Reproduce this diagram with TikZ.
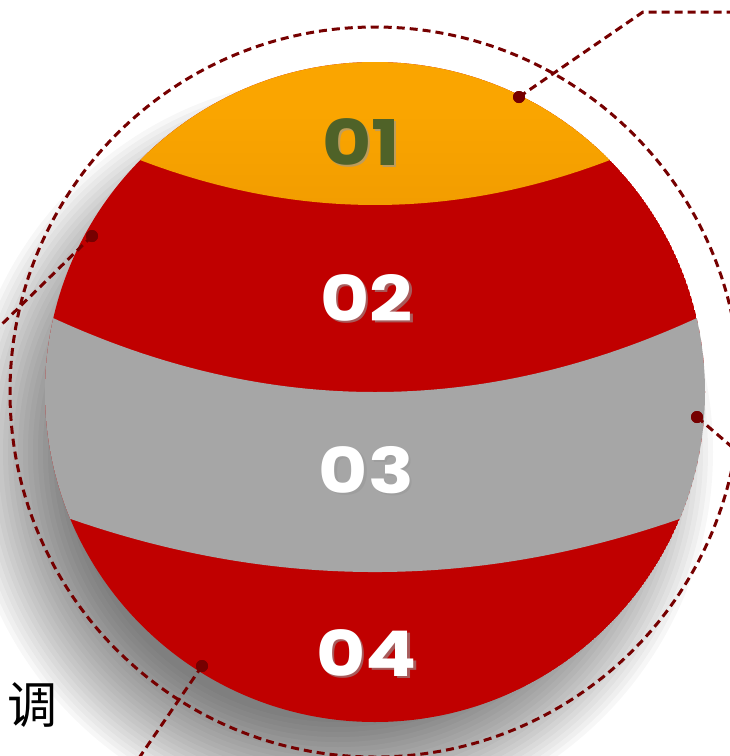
\documentclass[tikz,border=0pt]{standalone}
\usepackage{fontspec}
\newfontfamily\numfont{Poppins}
\newfontfamily\cjk{Noto Sans CJK SC}
\definecolor{bandorange}{RGB}{250,165,0}
\definecolor{bandorangedark}{RGB}{240,155,0}
\definecolor{bandred}{RGB}{192,0,0}
\definecolor{bandgray}{RGB}{166,166,166}
\definecolor{olivetext}{RGB}{79,98,40}
\definecolor{dashred}{RGB}{118,0,0}
\tikzset{
  dashline/.style={draw=dashred,line width=3pt,dash pattern=on 8pt off 5pt},
  dotnode/.style={circle,fill=dashred,inner sep=0pt,minimum size=12pt},
  numtext/.style={font=\numfont\bfseries\fontsize{63}{63}\selectfont,inner sep=0pt},
  numshadow/.style={numtext,text=black!40,opacity=0.6},
}
\begin{document}
\begin{tikzpicture}[x=1pt,y=-1pt]
\useasboundingbox (0,0) rectangle (730,756);
\clip (0,0) rectangle (730,756);
% soft shadow
\foreach \r in {270,275,...,375} {
  \fill[black,opacity=0.03] (338,452) circle (\r);
}
% sphere bands
\begin{scope}
  \clip (375,392) circle (330);
  \fill[bandred] (375,392) circle (330);
  \shade[top color=bandorange,bottom color=bandorangedark,middle color=bandorange]
    (0,0) -- (0,143.4) -- (100,143.4) .. controls (283.3,225.5) and (466.7,225.5) .. (650,143.4)
    -- (730,143.4) -- (730,0) -- cycle;
  \fill[bandgray]
    (0,311.9) -- (40,311.9) .. controls (263.3,418.7) and (486.7,418.7) .. (710,311.9)
    -- (730,311.9) -- (730,511.5) -- (700,511.5) .. controls (483.3,592.2) and (266.7,592.2) .. (50,511.5)
    -- (0,511.5) -- cycle;
\end{scope}
% numbers
\node[numshadow] at (363.5,144) {\scalebox{1.2}[1]{01}};
\node[numtext,text=olivetext] (n1) at (361,142) {\scalebox{1.2}[1]{01}};
\node[numshadow] at (369,300) {\scalebox{1.2}[1]{02}};
\node[numtext,text=white] (n2) at (366.5,298) {\scalebox{1.2}[1]{02}};
\node[numshadow] at (369,472) {\scalebox{1.2}[1]{03}};
\node[numtext,text=white] (n3) at (366.5,470) {\scalebox{1.2}[1]{03}};
\node[numshadow] at (369,655) {\scalebox{1.2}[1]{04}};
\node[numtext,text=white] (n4) at (366.5,653) {\scalebox{1.2}[1]{04}};
% dashed ring
\draw[dashline] (375,392) circle (365);
% connectors
\node[dotnode] (d1) at (519,97) {};
\node[dotnode] (d2) at (92,236) {};
\node[dotnode] (d3) at (697,417) {};
\node[dotnode] (d4) at (202,666) {};
\coordinate (c1) at (643,12);
\coordinate (e1) at (732,12);
\coordinate (e2) at (-2,328);
\coordinate (e3) at (732,447);
\coordinate (e4) at (139,758);
\draw[dashline] (d1.center) -- (c1) -- (e1);
\draw[dashline] (d2.center) -- (e2);
\draw[dashline] (d3.center) -- (e3);
\draw[dashline] (d4.center) -- (e4);
\node[dotnode] at (d1) {};
\node[dotnode] at (d2) {};
\node[dotnode] at (d3) {};
\node[dotnode] at (d4) {};
% text
\node[font=\cjk\fontsize{50}{50}\selectfont,inner sep=0pt] (t1) at (32,705) {调};
\end{tikzpicture}
\end{document}
